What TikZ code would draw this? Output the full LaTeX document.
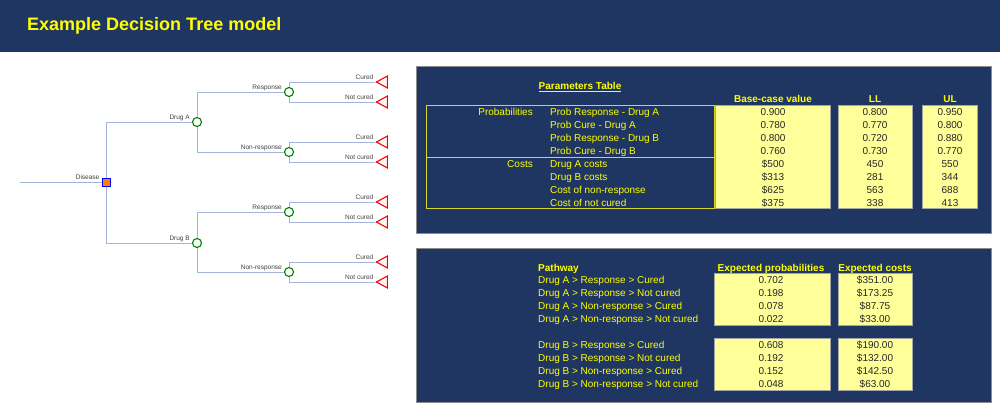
\documentclass[tikz,border=0pt]{standalone}
\usepackage{fontspec}
\setmainfont{Liberation Sans}
\usetikzlibrary{shapes.geometric}
\definecolor{navy}{RGB}{31,54,98}
\definecolor{lineblue}{RGB}{165,180,220}
\definecolor{paleyellow}{RGB}{255,255,153}
\definecolor{ttxt}{RGB}{64,64,64}
\definecolor{greennode}{RGB}{0,128,0}
\definecolor{ylw}{RGB}{255,255,0}
\definecolor{olive}{RGB}{215,215,40}
\begin{document}
\begin{tikzpicture}[x=1pt,y=-1pt,
  branch/.style={draw=lineblue, line width=0.9pt},
  chance/.style={circle, draw=greennode, fill=white, line width=1.1pt, minimum size=9pt, inner sep=0pt},
  decision/.style={rectangle, draw=blue, fill=orange, line width=1pt, minimum size=8pt, inner sep=0pt},
  terminal/.style={isosceles triangle, isosceles triangle stretches, shape border rotate=180, draw=red, fill=white, line width=1.1pt, minimum height=11pt, minimum width=12pt, inner sep=0pt, anchor=apex},
  treelabel/.style={font=\fontsize{6.5}{7}\selectfont, text=ttxt, inner sep=0pt, anchor=base east},
  partext/.style={font=\fontsize{10}{12}\selectfont, text=ylw, inner sep=0pt, text height=7.2pt, text depth=0pt},
  valtext/.style={font=\fontsize{10}{12}\selectfont, text=black!85, inner sep=0pt, text height=7.2pt, text depth=0pt},
  hdr/.style={font=\bfseries\fontsize{10}{12}\selectfont, text=ylw, inner sep=0pt, text height=7.2pt, text depth=0pt},
  panel/.style={fill=navy, draw=black!45, line width=0.5pt},
  valbox/.style={fill=paleyellow, draw=black!35, line width=0.4pt},
  outline/.style={draw=olive, line width=0.8pt}
]
\useasboundingbox (0,0) rectangle (1000,410);
\fill[white] (0,0) rectangle (1000,410);
% header
\fill[navy] (0,0) rectangle (1000,52);
\node[anchor=base west, inner sep=0pt, font=\bfseries\fontsize{18}{20}\selectfont, text=ylw] (title) at (27,30.5) {Example Decision Tree model};

% ---------- decision tree ----------
\coordinate (start) at (20,182);
\node[decision] (disease) at (106,182) {};
\node[chance] (drugA) at (197,122) {};
\node[chance] (drugB) at (197,243) {};
\node[chance] (respA) at (289,92) {};
\node[chance] (nonA) at (289,152) {};
\node[chance] (respB) at (289,212) {};
\node[chance] (nonB) at (289,272) {};
\node[terminal] (t1) at (375,82) {};
\node[terminal] (t2) at (375,102) {};
\node[terminal] (t3) at (375,142) {};
\node[terminal] (t4) at (375,162) {};
\node[terminal] (t5) at (375,202) {};
\node[terminal] (t6) at (375,222) {};
\node[terminal] (t7) at (375,262) {};
\node[terminal] (t8) at (375,282) {};

\draw[branch] (start) -- (disease.west);
\draw[branch] (disease.north) |- (drugA.west);
\draw[branch] (disease.south) |- (drugB.west);
\draw[branch] (drugA.north) |- (respA.west);
\draw[branch] (drugA.south) |- (nonA.west);
\draw[branch] (drugB.north) |- (respB.west);
\draw[branch] (drugB.south) |- (nonB.west);
\draw[branch] (respA.north) |- (t1.apex);
\draw[branch] (respA.south) |- (t2.apex);
\draw[branch] (nonA.north) |- (t3.apex);
\draw[branch] (nonA.south) |- (t4.apex);
\draw[branch] (respB.north) |- (t5.apex);
\draw[branch] (respB.south) |- (t6.apex);
\draw[branch] (nonB.north) |- (t7.apex);
\draw[branch] (nonB.south) |- (t8.apex);

\node[treelabel, xshift=-2pt, yshift=2.7pt] (ldisease) at (disease.west) {Disease};
\node[treelabel, xshift=-2pt, yshift=2.7pt] (ldrugA) at (drugA.west) {Drug A};
\node[treelabel, xshift=-2pt, yshift=2.7pt] (ldrugB) at (drugB.west) {Drug B};
\node[treelabel, xshift=-2pt, yshift=2.7pt] (lrespA) at (respA.west) {Response};
\node[treelabel, xshift=-2pt, yshift=2.7pt] (lnonA) at (nonA.west) {Non-response};
\node[treelabel, xshift=-2pt, yshift=2.7pt] (lrespB) at (respB.west) {Response};
\node[treelabel, xshift=-2pt, yshift=2.7pt] (lnonB) at (nonB.west) {Non-response};
\foreach \t/\lab in {t1/Cured,t2/Not cured,t3/Cured,t4/Not cured,t5/Cured,t6/Not cured,t7/Cured,t8/Not cured}
  \node[treelabel, xshift=-1.5pt, yshift=3pt] (l\t) at (\t.apex) {\lab};

% ---------- parameters panel ----------
\draw[panel] (416,66) rectangle (991,233);
\node[hdr] (ptitle) at (580,86) {\underline{Parameters Table}};
\draw[outline] (426,105) rectangle (714,208);
\draw[outline] (426,157) -- (714,157);
\draw[valbox] (715,105) rectangle (830,208);
\draw[valbox] (838,105) rectangle (912,208);
\draw[valbox] (922,105) rectangle (977,208);
\node[hdr] (hbase) at (773,99) {Base-case value};
\node[hdr] (hll) at (875,99) {LL};
\node[hdr] (hul) at (950,99) {UL};
\node[partext, anchor=east] (gprob) at (533,112) {Probabilities};
\node[partext, anchor=east] (gcost) at (533,164) {Costs};
\foreach \lab/\b/\l/\u [count=\i from 0] in {
  Prob Response - Drug A/0.900/0.800/0.950,
  Prob Cure - Drug A/0.780/0.770/0.800,
  Prob Response - Drug B/0.800/0.720/0.880,
  Prob Cure - Drug B/0.760/0.730/0.770,
  Drug A costs/\$500/450/550,
  Drug B costs/\$313/281/344,
  Cost of non-response/\$625/563/688,
  Cost of not cured/\$375/338/413}{
  \node[partext, anchor=west] (par\i) at (550,112+13*\i) {\lab};
  \node[valtext] (base\i) at (773,112+13*\i) {\b};
  \node[valtext] (ll\i) at (875,112+13*\i) {\l};
  \node[valtext] (ul\i) at (950,112+13*\i) {\u};
}

% ---------- pathway panel ----------
\draw[panel] (416,248) rectangle (991,402);
\node[hdr, anchor=west] (hpath) at (538,268) {Pathway};
\node[hdr] (hprob) at (771,268) {Expected probabilities};
\node[hdr] (hcost) at (875,268) {Expected costs};
\draw[valbox] (714,273) rectangle (830,325);
\draw[valbox] (838,273) rectangle (912,325);
\draw[valbox] (714,338) rectangle (830,390);
\draw[valbox] (838,338) rectangle (912,390);
\foreach \lab/\p/\c [count=\i from 0] in {
  Drug A > Response > Cured/0.702/\$351.00,
  Drug A > Response > Not cured/0.198/\$173.25,
  Drug A > Non-response > Cured/0.078/\$87.75,
  Drug A > Non-response > Not cured/0.022/\$33.00}{
  \node[partext, anchor=west] (pa\i) at (538,280+13*\i) {\lab};
  \node[valtext] (epa\i) at (771,280+13*\i) {\p};
  \node[valtext] (eca\i) at (875,280+13*\i) {\c};
}
\foreach \lab/\p/\c [count=\i from 0] in {
  Drug B > Response > Cured/0.608/\$190.00,
  Drug B > Response > Not cured/0.192/\$132.00,
  Drug B > Non-response > Cured/0.152/\$142.50,
  Drug B > Non-response > Not cured/0.048/\$63.00}{
  \node[partext, anchor=west] (pb\i) at (538,345+13*\i) {\lab};
  \node[valtext] (epb\i) at (771,345+13*\i) {\p};
  \node[valtext] (ecb\i) at (875,345+13*\i) {\c};
}
\end{tikzpicture}
\end{document}
